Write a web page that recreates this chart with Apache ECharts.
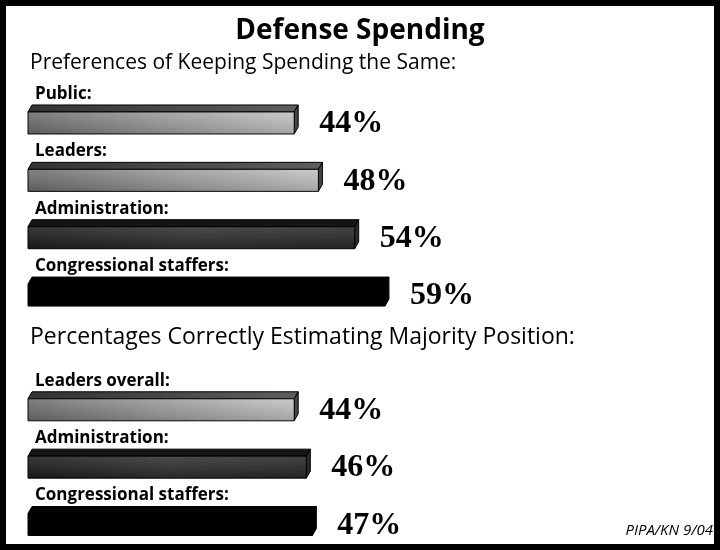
<!DOCTYPE html>
<html>
<head>
<meta charset="utf-8">
<script src="https://cdn.jsdelivr.net/npm/echarts@6/dist/echarts.min.js"></script>
<style>
html,body{margin:0;padding:0;background:#fff;}
#chart{width:720px;height:550px;}
</style>
</head>
<body>
<div id="chart"></div>
<script>
// ---- data ----
const titleText = 'Defense Spending';
const section1Title = 'Preferences of Keeping Spending the Same:';
const section2Title = 'Percentages Correctly Estimating Majority Position:';
const categories1 = ['Public:', 'Leaders:', 'Administration:', 'Congressional staffers:'];
const values1 = [44, 48, 54, 59];
const categories2 = ['Leaders overall:', 'Administration:', 'Congressional staffers:'];
const values2 = [44, 46, 47];
const sourceText = 'PIPA/KN 9/04';

// ---- build slots (one empty slot between the two sections) ----
const slots = categories1.concat([''], categories2);
const slotValues = values1.concat([null], values2);
function toneOf(name) {
  if (name.indexOf('Congressional') === 0) return 2;
  if (name.indexOf('Administration') === 0) return 1;
  return 0;
}
const seriesData = [];
slots.forEach(function (name, i) {
  if (slotValues[i] !== null) seriesData.push([slotValues[i], i, toneOf(name)]);
});

const G = echarts.graphic;
const tones = [
  { // light gray
    face: new G.LinearGradient(0, 0, 1, 0, [
      { offset: 0, color: '#6c6c6c' }, { offset: 0.5, color: '#9a9a9a' }, { offset: 1, color: '#c2c2c2' }]),
    shade: true,
    top: new G.LinearGradient(0, 0, 1, 0, [
      { offset: 0, color: '#333333' }, { offset: 1, color: '#5e5e5e' }]),
    side: '#454545'
  },
  { // dark
    face: new G.LinearGradient(0, 0, 1, 0, [
      { offset: 0, color: '#1c1c1c' }, { offset: 0.5, color: '#303030' }, { offset: 1, color: '#282828' }]),
    shade: true,
    top: '#151515',
    side: '#2a2a2a'
  },
  { // black
    face: '#000', shade: false, top: '#000', side: '#000'
  }
];

const DX = 4, DY = 7, FACE_H = 22;

function renderItem(params, api) {
  const v = api.value(0), idx = api.value(1), tone = tones[api.value(2)];
  const p0 = api.coord([0, idx]);
  const p1 = api.coord([v, idx]);
  const cy = p0[1];
  const topY = cy - (FACE_H + DY) / 2;
  const faceY = topY + DY;
  const x0 = p0[0], x1 = p1[0];
  const children = [];
  children.push({
    type: 'polygon',
    shape: { points: [[x0, faceY], [x0 + DX, topY], [x1 + DX, topY], [x1, faceY]] },
    style: { fill: tone.top, stroke: '#000', lineWidth: 1 }
  });
  children.push({
    type: 'polygon',
    shape: { points: [[x1, faceY], [x1 + DX, topY], [x1 + DX, topY + FACE_H], [x1, faceY + FACE_H]] },
    style: { fill: tone.side, stroke: '#000', lineWidth: 1 }
  });
  children.push({
    type: 'rect',
    shape: { x: x0, y: faceY, width: x1 - x0, height: FACE_H },
    style: { fill: tone.face, stroke: '#000', lineWidth: 1 }
  });
  if (tone.shade) {
    children.push({
      type: 'rect',
      shape: { x: x0 + 0.5, y: faceY + 0.5, width: x1 - x0 - 1, height: FACE_H - 1 },
      style: { fill: new G.LinearGradient(0, 0, 0, 1, [
        { offset: 0, color: 'rgba(255,255,255,0.12)' }, { offset: 1, color: 'rgba(0,0,0,0.15)' }]) },
      silent: true
    });
  }
  children.push({
    type: 'text',
    style: {
      x: x0 + 7, y: topY - 11, text: slots[idx],
      fill: '#000', font: 'bold 17px "Open Sans"', textAlign: 'left', textVerticalAlign: 'middle'
    }
  });
  children.push({
    type: 'text',
    style: {
      x: x1 + 25, y: faceY + FACE_H / 2 + 1, text: v + '%',
      fill: '#000', font: 'bold 32px "Liberation Serif"', textAlign: 'left', textVerticalAlign: 'middle'
    }
  });
  return { type: 'group', children: children };
}

const chart = echarts.init(document.getElementById('chart'));
chart.setOption({
  animation: false,
  backgroundColor: '#fff',
  title: {
    text: titleText, left: 'center', top: 12,
    textStyle: { fontFamily: 'Open Sans', fontWeight: 'bold', fontSize: 28, color: '#000' }
  },
  grid: { left: 28, width: 605, top: 90.8, height: 458.9, containLabel: false },
  xAxis: { type: 'value', min: 0, max: 100, show: false },
  yAxis: { type: 'category', inverse: true, data: slots.map(function (s, i) { return 'slot' + i; }), show: false },
  graphic: [
    { type: 'rect', shape: { x: 3, y: 3, width: 714, height: 544 }, style: { fill: 'none', stroke: '#000', lineWidth: 6 }, silent: true },
    { type: 'text', x: 30, y: 63, style: { text: section1Title, font: '21px "Open Sans"', fill: '#000', textVerticalAlign: 'middle' } },
    { type: 'text', x: 30, y: 337, style: { text: section2Title, font: '23px "Open Sans"', fill: '#000', textVerticalAlign: 'middle' } },
    { type: 'text', x: 713, y: 531, style: { text: sourceText, font: 'italic 15px "Open Sans"', fill: '#000', textAlign: 'right', textVerticalAlign: 'middle' } }
  ],
  series: [{
    type: 'custom',
    renderItem: renderItem,
    encode: { x: 0, y: 1 },
    data: seriesData
  }]
});
</script>
</body>
</html>
